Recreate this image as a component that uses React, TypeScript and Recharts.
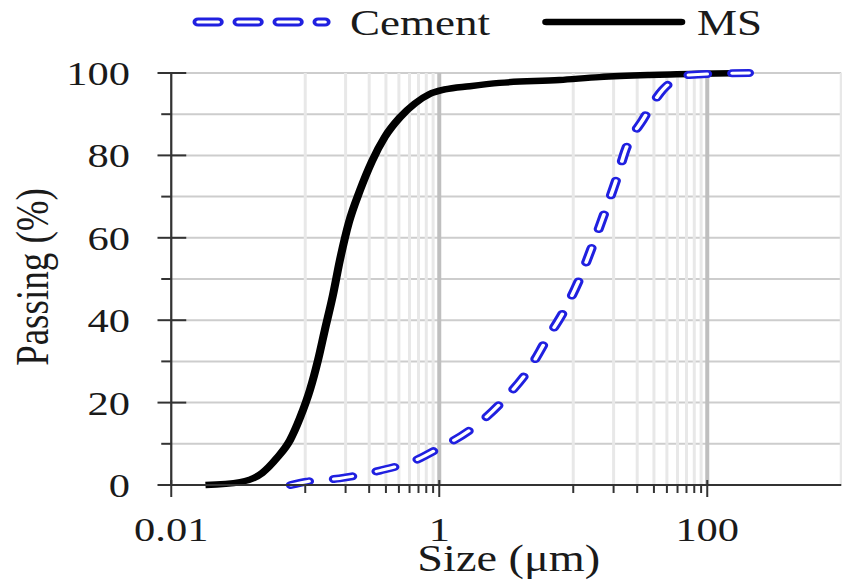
import React from 'react';
import { CartesianGrid, Label, Line, LineChart, XAxis, YAxis } from 'recharts';

// the source picture is stretched sideways, so the whole chart is drawn narrower and scaled
const STRETCH = 1.25;
const CHART_W = 674;
const CHART_H = 582;
const FONT = "'Liberation Serif', 'Times New Roman', serif";
const INK = '#1a1a1a';
const BLUE = '#2020e0';

// particle size (µm) and cumulative passing (%)
const msSize = [0.018, 0.0327, 0.0476, 0.0616, 0.077, 0.0914, 0.1085, 0.1245, 0.14, 0.161, 0.1815, 0.212, 0.256, 0.314, 0.393, 0.508, 0.658, 0.849, 1.1, 1.69, 2.82, 7.9, 15.7, 37, 87, 205];
const msPassing = [0, 0.7, 2.9, 6.6, 10.9, 16.3, 23.1, 30.3, 37.6, 46.1, 54.6, 63.8, 71.5, 78.5, 84.5, 89.2, 92.6, 94.9, 96.0, 96.8, 97.6, 98.3, 99.0, 99.5, 99.8, 100];

const cementSize = [0.078, 0.1025, 0.18, 0.36, 0.676, 1.1, 1.23, 2.12, 3.26, 4.72, 6.29, 8.61, 10.8, 14.0, 17.1, 20.9, 24.8, 33.0, 46.5, 73, 205];
const cementPassing = [0, 0.8, 1.6, 3.5, 6.1, 9.7, 10.5, 15.8, 21.8, 28.3, 35.2, 42.5, 49, 58.3, 66, 74, 81.7, 88.6, 95.9, 99.5, 100];

// axes
const xDomain = [0.01, 1000];
const xTicks = [0.01, 0.1, 0.2, 0.3, 0.4, 0.5, 0.6, 0.7, 0.8, 0.9, 1, 10, 20, 30, 40, 50, 60, 70, 80, 90, 100];
const xLabelled = [0.01, 1, 100];
const xMinorGrid = [0.1, 0.2, 0.3, 0.4, 0.5, 0.6, 0.7, 0.8, 0.9, 10, 20, 30, 40, 50, 60, 70, 80, 90, 1000];
const xMajorGrid = [1, 100];
const yTicks = [0, 10, 20, 30, 40, 50, 60, 70, 80, 90, 100];
const yLabelled = [0, 20, 40, 60, 80, 100];

const msData = msSize.map((size, i) => ({ size, passing: msPassing[i] }));
const cementData = cementSize.map((size, i) => ({ size, passing: cementPassing[i] }));

const XTick = ({ x, y, payload }: any) => {
  const v = payload.value;
  const major = xLabelled.includes(v);
  return (
    <g>
      <line x1={x} x2={x} y1={major ? y - 5 : y} y2={y + (major ? 12 : 8)} stroke="#333" strokeWidth={1.6} />
      {major && (
        <text x={x} y={y + 56} textAnchor="middle" fontFamily={FONT} fontSize={34} fill={INK}>
          {String(v)}
        </text>
      )}
    </g>
  );
};

const YTick = ({ x, y, payload }: any) => {
  const v = payload.value;
  const major = yLabelled.includes(v);
  return (
    <g>
      <line x1={x - (major ? 11 : 8)} x2={x + (major ? 12 : 0)} y1={y} y2={y} stroke="#333" strokeWidth={2} />
      {major && (
        <text x={x - 33} y={y + 12} textAnchor="end" fontFamily={FONT} fontSize={34} fill={INK}>
          {v}
        </text>
      )}
    </g>
  );
};

const XTitle = ({ viewBox }: any) => (
  <text x={viewBox.x + viewBox.width / 2 + 2} y={viewBox.y + 86} textAnchor="middle" fontFamily={FONT} fontSize={37} fill={INK}>
    Size (μm)
  </text>
);

const YTitle = ({ viewBox }: any) => {
  const cx = 38.5;
  const cy = viewBox.y + viewBox.height / 2 - 2;
  return (
    <text x={cx} y={cy} transform={`rotate(-90, ${cx}, ${cy})`} textAnchor="middle" fontFamily={FONT} fontSize={37} fill={INK}>
      Passing (%)
    </text>
  );
};

const LegendOverlay = () => (
  <svg width={CHART_W} height={60} style={{ position: 'absolute', left: 0, top: 0 }}>
    <line x1={158.5} x2={260} y1={22} y2={22} stroke={BLUE} strokeWidth={9} strokeDasharray="16 16" strokeLinecap="round" />
    <line x1={158.5} x2={260} y1={22} y2={22} stroke="#fff" strokeWidth={3} strokeDasharray="16 16" strokeLinecap="round" />
    <text x={280} y={35} fontFamily={FONT} fontSize={36} fill={INK}>Cement</text>
    <line x1={437} x2={545} y1={22} y2={22} stroke="#000" strokeWidth={6.5} strokeLinecap="round" />
    <text x={557.6} y={35} fontFamily={FONT} fontSize={36} fill={INK}>MS</text>
  </svg>
);

export default function App() {
  return (
    <div
      style={{
        position: 'absolute',
        left: 0,
        top: 0,
        width: CHART_W,
        height: CHART_H,
        background: '#fff',
        transform: `scaleX(${STRETCH})`,
        transformOrigin: '0 0',
      }}
    >
      <LineChart width={CHART_W} height={CHART_H} margin={{ top: 73, right: 1, bottom: 0, left: 0 }}>
        <CartesianGrid xAxisId="main" vertical={false} stroke="#cdcdcd" strokeWidth={2} />
        <CartesianGrid xAxisId="main" horizontal={false} verticalValues={xMinorGrid} stroke="#e8e8e8" strokeWidth={2.4} />
        <CartesianGrid xAxisId="main" horizontal={false} verticalValues={xMajorGrid} stroke="#bfbfbf" strokeWidth={3.2} />
        <XAxis
          xAxisId="main"
          dataKey="size"
          type="number"
          scale="log"
          domain={xDomain}
          allowDataOverflow
          ticks={xTicks}
          interval={0}
          tick={<XTick />}
          tickLine={false}
          tickSize={0}
          tickMargin={0}
          height={97}
          axisLine={{ stroke: '#333', strokeWidth: 2 }}
        >
          <Label content={<XTitle />} />
        </XAxis>
        <YAxis
          type="number"
          domain={[0, 100]}
          ticks={yTicks}
          interval={0}
          tick={<YTick />}
          tickLine={false}
          tickSize={0}
          tickMargin={0}
          width={137}
          axisLine={{ stroke: '#333', strokeWidth: 1.8 }}
        >
          <Label content={<YTitle />} />
        </YAxis>
        <Line
          xAxisId="main"
          data={msData}
          dataKey="passing"
          type="monotone"
          stroke="#000"
          strokeWidth={6.5}
          dot={false}
          activeDot={false}
          isAnimationActive={false}
        />
        <Line
          xAxisId="main"
          data={cementData}
          dataKey="passing"
          type="monotone"
          stroke={BLUE}
          strokeWidth={8}
          strokeDasharray="15 20"
          strokeLinecap="round"
          dot={false}
          activeDot={false}
          isAnimationActive={false}
        />
        <Line
          xAxisId="main"
          data={cementData}
          dataKey="passing"
          type="monotone"
          stroke="#fff"
          strokeWidth={3}
          strokeDasharray="15 20"
          strokeLinecap="round"
          dot={false}
          activeDot={false}
          isAnimationActive={false}
        />
      </LineChart>
      <LegendOverlay />
    </div>
  );
}
